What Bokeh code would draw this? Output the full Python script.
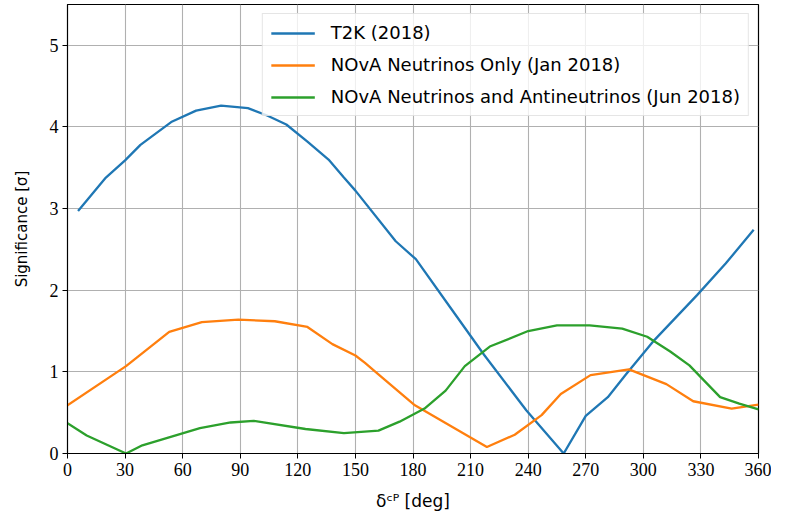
from bokeh.plotting import figure
from bokeh.models import Range1d, FixedTicker, Legend, LegendItem
from bokeh.embed import file_html
from bokeh.resources import INLINE

# ---- data ----
t2k_x = [5.5, 20, 30, 38, 54, 67, 80, 94, 104, 114, 125, 136, 144, 150, 171, 181.5,
         200, 217, 239, 258.5, 270, 281.5, 291, 305, 328, 343, 357.5]
t2k_y = [2.97, 3.38, 3.59, 3.78, 4.06, 4.20, 4.26, 4.23, 4.14, 4.03, 3.82, 3.60, 3.38, 3.22, 2.60, 2.38,
         1.77, 1.21, 0.53, 0.0, 0.46, 0.69, 0.97, 1.37, 1.94, 2.33, 2.74]

nova_nu_x = [0, 30.5, 53, 70, 89, 108, 125, 138, 150, 155, 160, 181, 218.5, 233, 247, 257,
             272.5, 292.5, 312, 326, 346, 360]
nova_nu_y = [0.59, 1.07, 1.49, 1.61, 1.64, 1.62, 1.55, 1.34, 1.20, 1.11, 1.01, 0.59, 0.08, 0.23, 0.47, 0.73,
             0.96, 1.03, 0.85, 0.64, 0.55, 0.60]

nova_all_x = [0, 10, 30.5, 39, 69, 85, 97, 124, 144, 162, 173, 186, 197, 207, 220, 240, 255, 272,
              289, 302, 314, 324, 340, 350, 360]
nova_all_y = [0.37, 0.22, 0.0, 0.10, 0.31, 0.38, 0.40, 0.30, 0.25, 0.28, 0.39, 0.55, 0.77, 1.07, 1.31, 1.50, 1.57, 1.57,
              1.53, 1.43, 1.25, 1.08, 0.69, 0.61, 0.54]

labels = ["T2K (2018)", "NOvA Neutrinos Only (Jan 2018)", "NOvA Neutrinos and Antineutrinos (Jun 2018)"]
x_ticks = list(range(0, 361, 30))
y_ticks = [0, 1, 2, 3, 4, 5]

# ---- figure ----
p = figure(width=771, height=513, output_backend="svg", toolbar_location=None,
           x_range=Range1d(0, 360), y_range=Range1d(0, 5.5),
           min_border_left=67, min_border_right=13, min_border_top=4, min_border_bottom=52)
p.background_fill_color = "white"
p.border_fill_color = "white"
p.outline_line_color = "black"
p.outline_line_width = 1.2
p.outline_line_alpha = 1

p.xaxis.ticker = FixedTicker(ticks=x_ticks)
p.yaxis.ticker = FixedTicker(ticks=y_ticks)
for ax in (p.xaxis[0], p.yaxis[0]):
    ax.major_label_text_font = "Liberation Serif"
    ax.major_label_text_font_size = "18px"
    ax.major_label_text_color = "black"
    ax.major_tick_out = 5
    ax.major_tick_in = 0
    ax.minor_tick_out = 0
    ax.minor_tick_in = 0
    ax.axis_line_color = "black"
    ax.major_tick_line_color = "black"
    ax.major_label_standoff = 4
    ax.axis_label_text_font = "DejaVu Sans"
    ax.axis_label_text_font_style = "normal"
    ax.axis_label_text_color = "black"

p.yaxis.axis_label = "Significance [σ]"
p.yaxis.axis_label_text_font_size = "15px"
p.yaxis.axis_label_standoff = 16

p.xaxis.axis_label = "δᶜᴾ [deg]"
p.xaxis.axis_label_text_font_size = "17px"
p.xaxis.axis_label_standoff = 12

p.xgrid.grid_line_color = "#b0b0b0"
p.ygrid.grid_line_color = "#b0b0b0"
p.xgrid.grid_line_width = 1.1
p.ygrid.grid_line_width = 1.1

r1 = p.line(t2k_x, t2k_y, line_color="#1f77b4", line_width=2.3)
r2 = p.line(nova_nu_x, nova_nu_y, line_color="#ff7f0e", line_width=2.3)
r3 = p.line(nova_all_x, nova_all_y, line_color="#2ca02c", line_width=2.3)

legend = Legend(items=[LegendItem(label=labels[0], renderers=[r1]),
                       LegendItem(label=labels[1], renderers=[r2]),
                       LegendItem(label=labels[2], renderers=[r3])],
                location="top_right")
legend.label_text_font = "DejaVu Sans"
legend.label_text_font_size = "18px"
legend.label_text_color = "black"
legend.glyph_width = 44
legend.glyph_height = 20
legend.label_height = 20
legend.label_standoff = 16
legend.spacing = 11
legend.padding = 8
legend.margin = 9
legend.border_line_color = "#cccccc"
legend.border_line_width = 1
legend.background_fill_alpha = 0.8
p.add_layout(legend, "center")

open("out.html", "w").write(file_html(p, INLINE))
